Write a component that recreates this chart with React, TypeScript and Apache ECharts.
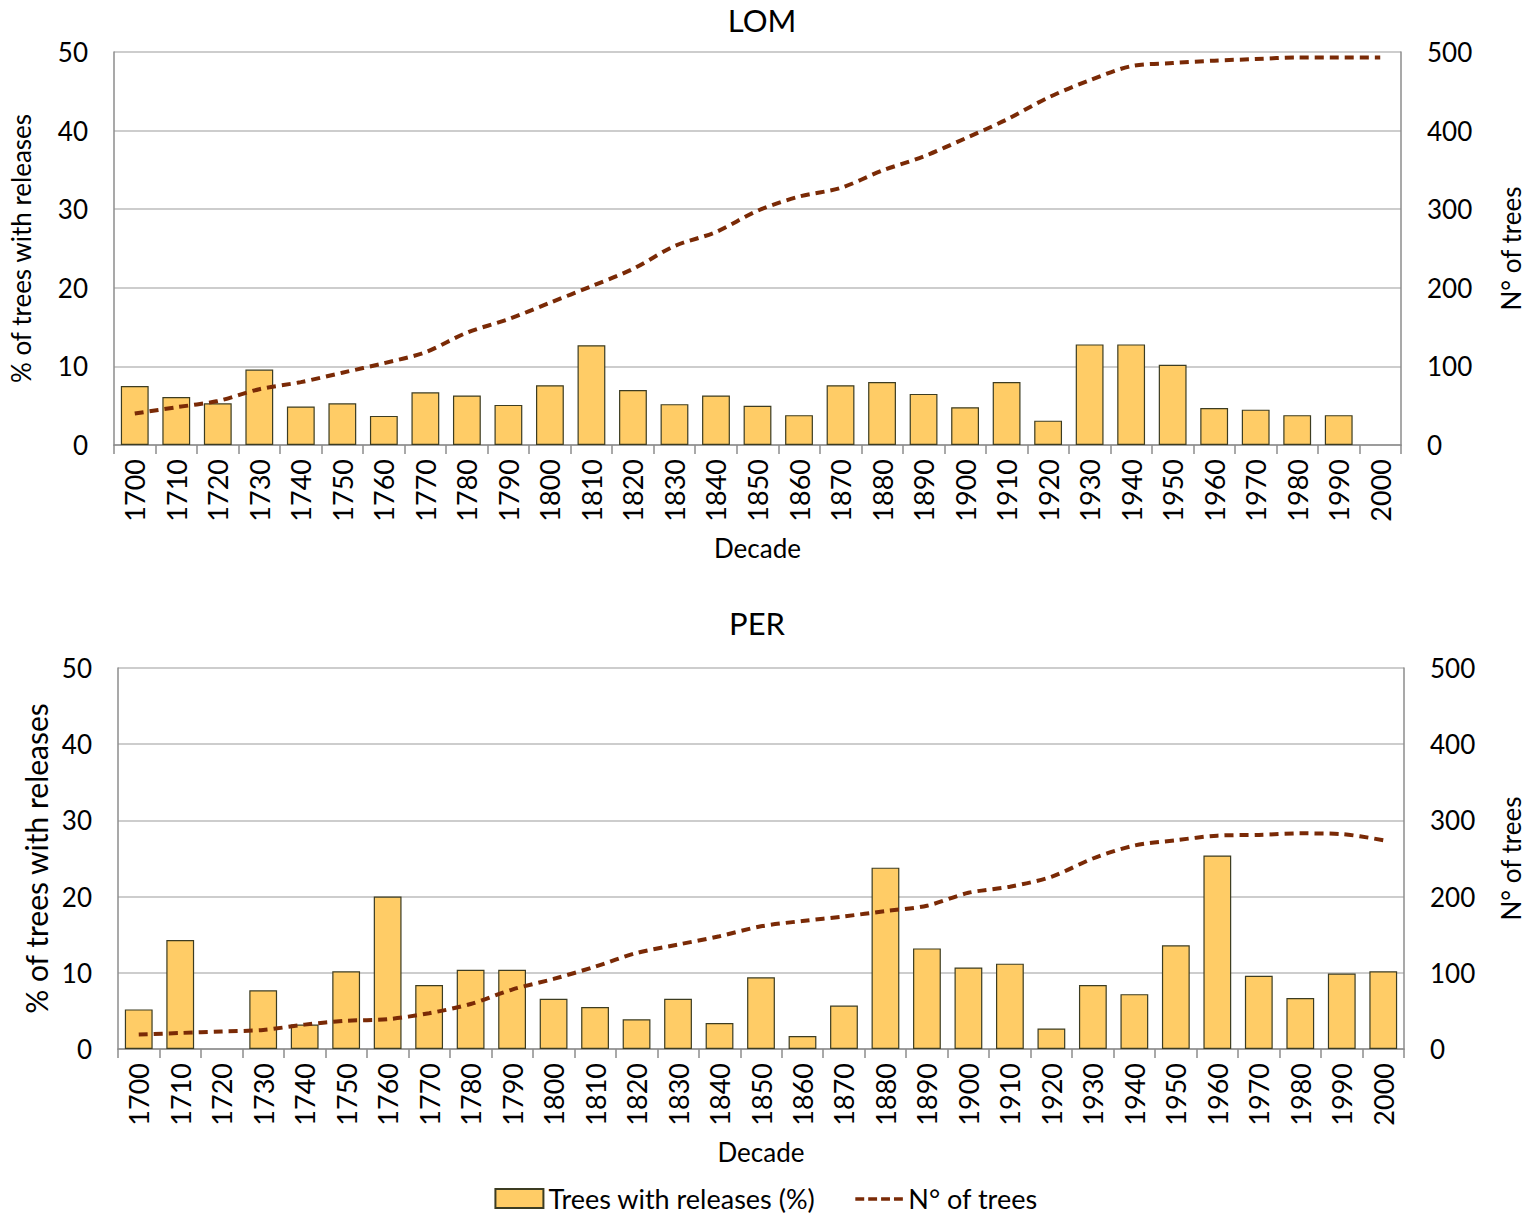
import React, { useEffect, useRef } from "react";
import * as echarts from "echarts";

const decades = ["1700","1710","1720","1730","1740","1750","1760","1770","1780","1790","1800","1810","1820","1830","1840","1850","1860","1870","1880","1890","1900","1910","1920","1930","1940","1950","1960","1970","1980","1990","2000"];

const lomReleases = [7.5,6.1,5.3,9.6,4.9,5.3,3.7,6.7,6.3,5.1,7.6,12.7,7.0,5.2,6.3,5.0,3.8,7.6,8.0,6.5,4.8,8.0,3.1,12.8,12.8,10.2,4.7,4.5,3.8,3.8,null];
const lomTrees = [40,48,56,71,80,92,104,118,143,160,181,202,224,253,271,298,316,327,349,367,390,414,442,464,482,486,489,491,493,493,493];

const perReleases = [5.2,14.3,null,7.7,3.2,10.2,20.0,8.4,10.4,10.4,6.6,5.5,3.9,6.6,3.4,9.4,1.7,5.7,23.8,13.2,10.7,11.2,2.7,8.4,7.2,13.6,25.4,9.6,6.7,9.9,10.2];
const perTrees = [19,21,23,25,32,37,39,47,59,78,92,108,126,137,148,161,168,174,181,188,205,213,226,250,267,274,280,281,283,282,274];

const pctTicks = [0, 50, 10];
const treeTicks = [0, 500, 100];

const FONT = "Lato";
const BAR_NAME = "Trees with releases (%)";
const LINE_NAME = "N° of trees";
const LINE_COLOR = "#7a2a06";
const DASH_ICON =
  "path://M0,0h0.01v0.01h-0.01z M54,19h0.01v0.01h-0.01z M0,8h10v4h-10z M14.5,8h10v4h-10z M29,8h10v4h-10z M43.5,8h10v4h-10z";

export default function App() {
  const ref = useRef<HTMLDivElement>(null);
  useEffect(() => {
    if (!ref.current) return;
    const chart = echarts.init(ref.current, null, { renderer: "svg" });
    const txt = { fontFamily: FONT, color: "#000", fontSize: 26 };
    const mkX = (gridIndex: number) => ({
      type: "category",
      gridIndex,
      data: decades,
      axisLine: { show: true, lineStyle: { color: "#8c8c8c", width: 1.5 } },
      axisTick: { show: true, length: 9, lineStyle: { color: "#8c8c8c", width: 1.5 } },
      axisLabel: { ...txt, fontSize: 27, rotate: 90, margin: 14, interval: 0 },
      name: "Decade",
      nameLocation: "middle",
      nameGap: 90,
      nameTextStyle: { ...txt },
    });
    const mkYL = (gridIndex: number, nameGap: number, nameSize: number) => ({
      type: "value",
      gridIndex,
      min: pctTicks[0],
      max: pctTicks[1],
      interval: pctTicks[2],
      axisLine: { show: true, lineStyle: { color: "#8c8c8c", width: 1.5 } },
      axisTick: { show: false },
      axisLabel: { ...txt, margin: 26 },
      splitLine: { show: true, lineStyle: { color: "#bdbdbd", width: 1.5 } },
      name: "% of trees with releases",
      nameLocation: "middle",
      nameGap,
      nameTextStyle: { ...txt, fontSize: nameSize },
    });
    const mkYR = (gridIndex: number, nameGap: number) => ({
      type: "value",
      gridIndex,
      position: "right",
      min: treeTicks[0],
      max: treeTicks[1],
      interval: treeTicks[2],
      axisLine: { show: true, lineStyle: { color: "#8c8c8c", width: 1.5 } },
      axisTick: { show: false },
      axisLabel: { ...txt, margin: 26 },
      splitLine: { show: false },
      name: LINE_NAME,
      nameLocation: "middle",
      nameGap,
      nameTextStyle: { ...txt },
    });
    const barStyle = { color: "#ffcc66", borderColor: "#3c3c22", borderWidth: 1.2 };
    const lineStyle = { color: LINE_COLOR, width: 4, type: [9, 6] as any };
    chart.setOption({
      animation: false,
      backgroundColor: "#fff",
      title: [
        { text: "LOM", left: 757, top: -1, textAlign: "center", textStyle: { fontFamily: FONT, fontSize: 31, fontWeight: "normal", color: "#000" } },
        { text: "PER", left: 752, top: 602, textAlign: "center", textStyle: { fontFamily: FONT, fontSize: 31, fontWeight: "normal", color: "#000" } },
      ],
      legend: {
        bottom: 2,
        left: "center",
        itemGap: 40,
        itemWidth: 48,
        itemHeight: 19,
        textStyle: { ...txt, fontSize: 27 },
        data: [
          { name: BAR_NAME, icon: "rect" },
          { name: LINE_NAME, icon: DASH_ICON, itemStyle: { color: LINE_COLOR, borderWidth: 0 } },
        ],
      },
      grid: [
        { left: 114, top: 52, width: 1291, height: 393 },
        { left: 118, top: 668, width: 1292, height: 381 },
      ],
      xAxis: [mkX(0), mkX(1)],
      yAxis: [mkYL(0, 80, 26), mkYR(0, 97), mkYL(1, 62, 30), mkYR(1, 94)],
      series: [
        { name: BAR_NAME, type: "bar", xAxisIndex: 0, yAxisIndex: 0, data: lomReleases, barCategoryGap: "33%", itemStyle: barStyle },
        { name: LINE_NAME, type: "line", xAxisIndex: 0, yAxisIndex: 1, data: lomTrees, smooth: 0.3, symbol: "none", lineStyle, itemStyle: { color: LINE_COLOR } },
        { name: BAR_NAME, type: "bar", xAxisIndex: 1, yAxisIndex: 2, data: perReleases, barCategoryGap: "33%", itemStyle: barStyle },
        { name: LINE_NAME, type: "line", xAxisIndex: 1, yAxisIndex: 3, data: perTrees, smooth: 0.3, symbol: "none", lineStyle, itemStyle: { color: LINE_COLOR } },
      ],
    });
    return () => chart.dispose();
  }, []);
  return (
    <div
      ref={ref}
      style={{ position: "fixed", left: 0, top: 0, width: 1532, height: 1219, background: "#fff" }}
    />
  );
}
